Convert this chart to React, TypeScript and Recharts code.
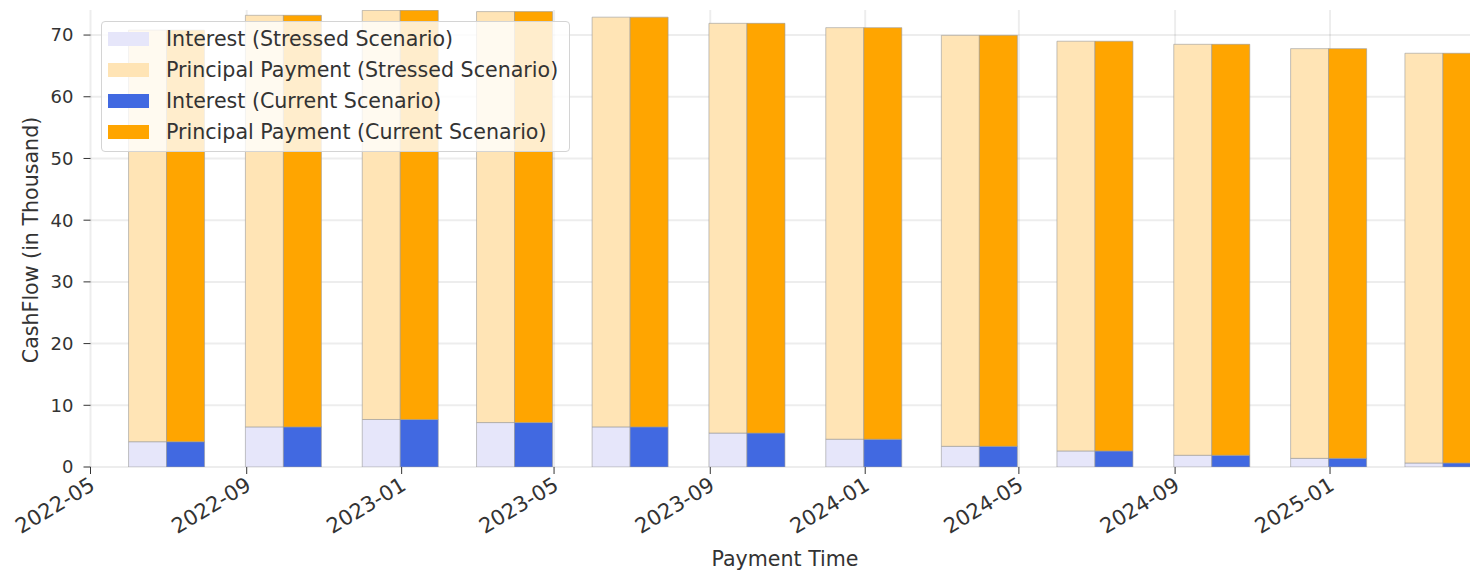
import { Bar, BarChart, CartesianGrid, XAxis, YAxis } from "recharts"

// quarterly payment dates
const paymentDates = [
    "2022-06-30", "2022-09-30", "2022-12-31", "2023-03-31",
    "2023-06-30", "2023-09-30", "2023-12-31", "2024-03-31",
    "2024-06-30", "2024-09-30", "2024-12-31", "2025-03-31",
]
// cashflow in thousand
const stressedInterest = [4.1, 6.5, 7.7, 7.2, 6.5, 5.5, 4.5, 3.35, 2.6, 1.9, 1.4, 0.65]
const stressedPrincipal = [66.7, 66.7, 66.3, 66.6, 66.4, 66.4, 66.7, 66.6, 66.4, 66.6, 66.4, 66.4]
const currentInterest = [4.1, 6.5, 7.7, 7.2, 6.5, 5.5, 4.5, 3.35, 2.6, 1.9, 1.4, 0.65]
const currentPrincipal = [66.7, 66.7, 66.3, 66.6, 66.4, 66.4, 66.7, 66.6, 66.4, 66.6, 66.4, 66.4]

const xTickDates = [
    "2022-05-01", "2022-09-01", "2023-01-01", "2023-05-01", "2023-09-01",
    "2024-01-01", "2024-05-01", "2024-09-01", "2025-01-01",
]
const yTicks = [0, 10, 20, 30, 40, 50, 60, 70]

const START = Date.parse("2022-05-01")
const dayOf = (d: string) => (Date.parse(d) - START) / 86400000

const data = paymentDates.map((d, i) => ({
    t: dayOf(d),
    si: stressedInterest[i],
    sp: stressedPrincipal[i],
    ci: currentInterest[i],
    cp: currentPrincipal[i],
}))
const xTicks = xTickDates.map(dayOf)

const X_MAX = 1086.2
const Y_MAX = 74.06
const FONT = "'DejaVu Sans', sans-serif"
const TEXT = "#333333"
const LABEL_SIZE = 20.6

const legendItems = [
    { label: "Interest (Stressed Scenario)", color: "#e6e6fa" },
    { label: "Principal Payment (Stressed Scenario)", color: "#ffe4b5" },
    { label: "Interest (Current Scenario)", color: "#4169e1" },
    { label: "Principal Payment (Current Scenario)", color: "#ffa500" },
]

const DateTick = (props: any) => {
    const { x, y, payload } = props
    const idx = xTicks.indexOf(payload.value)
    const label = idx >= 0 ? xTickDates[idx].slice(0, 7) : ""
    return (
        <g transform={`translate(${x - 2},${y - 1})`}>
            <text x={0} y={0} dy="0.72em" textAnchor="end" transform="rotate(-31)"
                fill={TEXT} fontSize={21} fontFamily={FONT}>{label}</text>
        </g>
    )
}

// grid only at the tick values (no lines on the plot border)
const hGrid = ({ offset }: any) => yTicks.map((v) => offset.top + offset.height * (1 - v / Y_MAX))
const vGrid = ({ offset }: any) => xTicks.map((v) => offset.left + offset.width * (v / X_MAX))

export default function App() {
    return (
        <div style={{ position: "absolute", left: 0, top: 0, width: 1470, height: 571, background: "#fff" }}>
            <BarChart width={1470} height={571} data={data} barGap={0} barSize={38}
                margin={{ top: 10, right: 0, bottom: 0, left: 0 }}>
                <XAxis dataKey="t" type="number" domain={[0, X_MAX]} allowDataOverflow
                    ticks={xTicks} tick={<DateTick />} interval={0} height={104}
                    axisLine={false} tickLine={{ stroke: TEXT }} tickSize={7} tickMargin={3}
                    label={{
                        content: () => (
                            <text x={785} y={566} textAnchor="middle" fill={TEXT}
                                fontSize={LABEL_SIZE} fontFamily={FONT}>Payment Time</text>
                        ),
                    }} />
                <YAxis type="number" domain={[0, Y_MAX]} allowDataOverflow ticks={yTicks}
                    width={90.5} axisLine={false} tickLine={{ stroke: TEXT }} tickSize={7} tickMargin={10}
                    tick={{ fill: TEXT, fontSize: 18, fontFamily: FONT }}
                    label={{
                        content: () => (
                            <text x={38} y={240} textAnchor="middle" transform="rotate(-90, 38, 240)"
                                fill={TEXT} fontSize={LABEL_SIZE} fontFamily={FONT}>CashFlow (in Thousand)</text>
                        ),
                    }} />
                <Bar dataKey="si" stackId="s" fill="#e6e6fa" stroke="#9a9a9a" strokeWidth={0.6} isAnimationActive={false} />
                <Bar dataKey="sp" stackId="s" fill="#ffe4b5" stroke="#9a9a9a" strokeWidth={0.6} isAnimationActive={false} />
                <Bar dataKey="ci" stackId="c" fill="#4169e1" stroke="#9a9a9a" strokeWidth={0.6} isAnimationActive={false} />
                <Bar dataKey="cp" stackId="c" fill="#ffa500" stroke="#9a9a9a" strokeWidth={0.6} isAnimationActive={false} />
                <CartesianGrid stroke="rgba(0,0,0,0.07)" strokeWidth={2}
                    horizontalCoordinatesGenerator={hGrid} verticalCoordinatesGenerator={vGrid} />
            </BarChart>
            <div style={{
                position: "absolute", left: 101, top: 21, width: 469, height: 131,
                boxSizing: "border-box", border: "1px solid #d4d4d4", borderRadius: 4,
                background: "rgba(255,255,255,0.8)", paddingTop: 1, fontFamily: FONT,
            }}>
                {legendItems.map((it) => (
                    <div key={it.label} style={{ display: "flex", alignItems: "center", height: 31 }}>
                        <span style={{ display: "inline-block", marginLeft: 6, width: 41, height: 14, background: it.color }} />
                        <span style={{ marginLeft: 17, fontSize: LABEL_SIZE, color: TEXT, whiteSpace: "nowrap" }}>{it.label}</span>
                    </div>
                ))}
            </div>
        </div>
    )
}
